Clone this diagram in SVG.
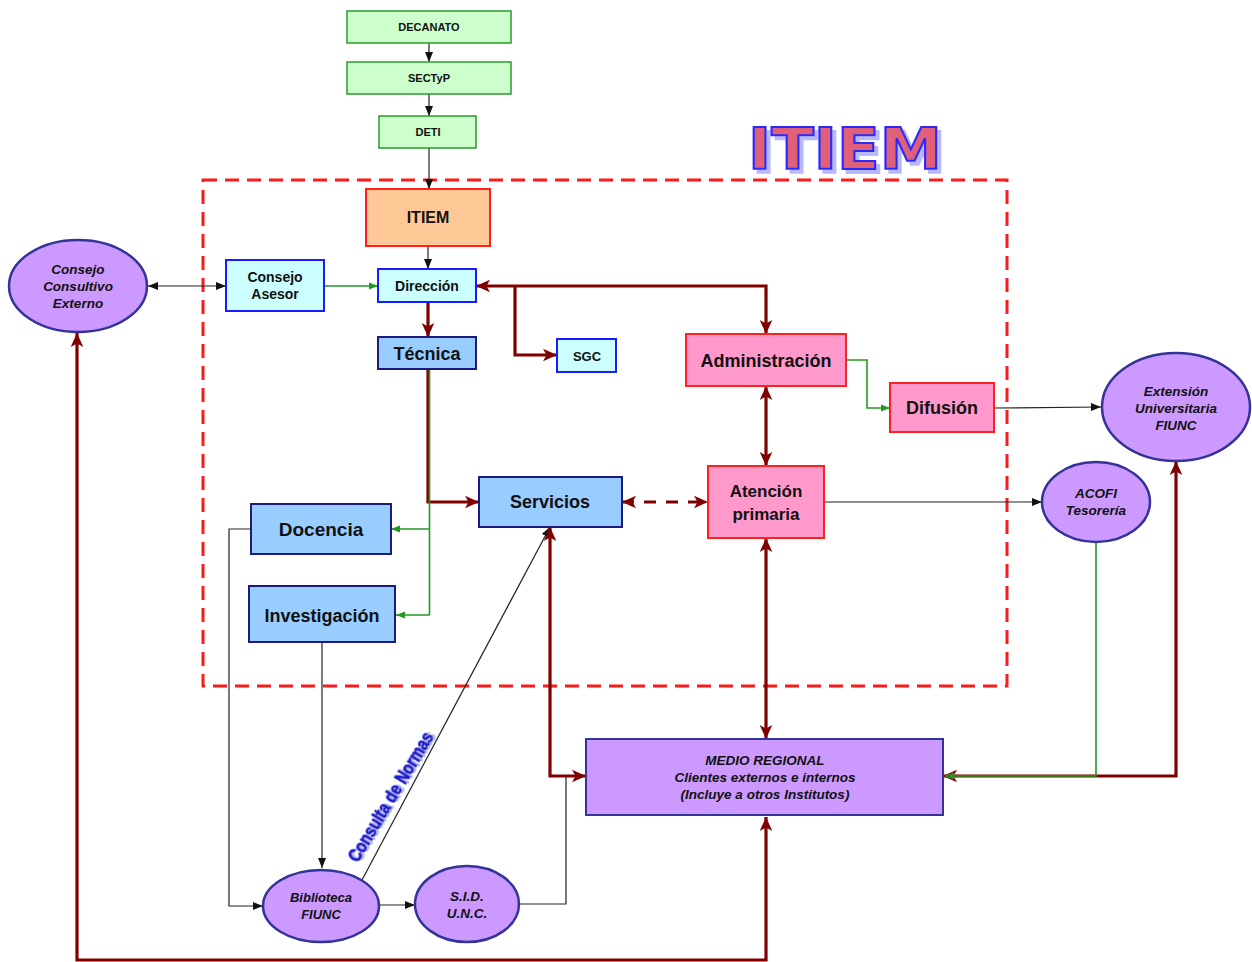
<svg xmlns="http://www.w3.org/2000/svg" width="1252" height="962" viewBox="0 0 1252 962">
<style>
  text { font-family: "Liberation Sans", Arial, sans-serif; font-weight: bold; fill: #111; text-anchor: middle; }
  .it { font-style: italic; }
  .green { fill: #ccffcc; stroke: #2a9a2a; stroke-width: 1.5; }
  .cyan { fill: #ccffff; stroke: #1a1aff; stroke-width: 2; }
  .blue { fill: #99ccff; stroke: #1a1a80; stroke-width: 2; }
  .pink { fill: #ff99cc; stroke: #ff2020; stroke-width: 2; }
  .peach { fill: #ffc896; stroke: #ff2020; stroke-width: 2; }
  .purple { fill: #cc99ff; stroke: #333399; stroke-width: 2.5; }
  .blk { fill: none; stroke: #222; stroke-width: 1.2; }
  .grn { fill: none; stroke: #229922; stroke-width: 1.6; }
  .red { fill: none; stroke: #800000; stroke-width: 3.2; }
</style>
<defs>
  <marker id="ab" markerUnits="userSpaceOnUse" markerWidth="10" markerHeight="10" viewBox="0 0 10 10" refX="10" refY="5" orient="auto-start-reverse"><path d="M0,1 L10,5 L0,9 z" fill="#111"/></marker>
  <marker id="ag" markerUnits="userSpaceOnUse" markerWidth="9" markerHeight="9" viewBox="0 0 10 10" refX="10" refY="5" orient="auto-start-reverse"><path d="M0,1 L10,5 L0,9 z" fill="#229922"/></marker>
  <marker id="ar" markerUnits="userSpaceOnUse" markerWidth="14" markerHeight="14" viewBox="0 0 10 10" refX="10" refY="5" orient="auto-start-reverse"><path d="M0,0.5 L10,5 L0,9.5 L2.5,5 z" fill="#800000"/></marker>
  <filter id="shadow" x="-10%" y="-20%" width="130%" height="150%">
    <feOffset in="SourceAlpha" dx="4" dy="4" result="off"/>
    <feFlood flood-color="#9999ff" flood-opacity="0.7"/>
    <feComposite in2="off" operator="in" result="sh"/>
    <feMerge><feMergeNode in="sh"/><feMergeNode in="SourceGraphic"/></feMerge>
  </filter>
  <filter id="shadow2" x="-20%" y="-20%" width="140%" height="140%">
    <feOffset in="SourceAlpha" dx="1.5" dy="1.5" result="off"/>
    <feFlood flood-color="#8888dd" flood-opacity="0.6"/>
    <feComposite in2="off" operator="in" result="sh"/>
    <feMerge><feMergeNode in="sh"/><feMergeNode in="SourceGraphic"/></feMerge>
  </filter>
</defs>
<rect width="1252" height="962" fill="#ffffff"/>

<!-- frame -->
<rect x="203" y="180" width="804" height="506" fill="none" stroke="#ff1a1a" stroke-width="3" stroke-dasharray="14,8"/>

<!-- title -->
<g id="title" filter="url(#shadow)">
  <text x="845" y="169" font-size="57" textLength="194" lengthAdjust="spacingAndGlyphs" style="font-family:'DejaVu Sans','Liberation Sans',sans-serif;font-weight:bold;fill:#e0607a;stroke:#2a2aff;stroke-width:2">ITIEM</text>
</g>

<!-- connectors -->
<g id="connectors">
  <line class="blk" x1="429" y1="43" x2="429" y2="62" marker-end="url(#ab)"/>
  <line class="blk" x1="429" y1="94" x2="429" y2="116" marker-end="url(#ab)"/>
  <line class="blk" x1="429" y1="148" x2="429" y2="189" marker-end="url(#ab)"/>
  <line class="blk" x1="428" y1="246" x2="428" y2="269" marker-end="url(#ab)"/>
  <line class="blk" x1="148" y1="286" x2="226" y2="286" marker-start="url(#ab)" marker-end="url(#ab)"/>
  <line class="grn" x1="324" y1="286" x2="378" y2="286" marker-end="url(#ag)"/>
  <line class="red" x1="428" y1="302" x2="428" y2="337" marker-end="url(#ar)"/>
  <polyline class="red" points="766,334 766,286 476,286" marker-start="url(#ar)" marker-end="url(#ar)"/>
  <polyline class="red" points="515,286 515,355 557,355" marker-end="url(#ar)"/>
  <polyline class="grn" points="846,360 867,360 867,408 890,408" marker-end="url(#ag)"/>
  <line class="blk" x1="994" y1="408" x2="1101" y2="407" marker-end="url(#ab)"/>
  <line class="red" x1="766" y1="386" x2="766" y2="466" marker-start="url(#ar)" marker-end="url(#ar)"/>
  <line class="blk" x1="824" y1="502" x2="1042" y2="502" marker-end="url(#ab)"/>
  <line class="red" x1="622" y1="502" x2="708" y2="502" stroke-dasharray="12,10" marker-start="url(#ar)" marker-end="url(#ar)"/>
  <polyline class="red" points="428,369 428,502 479,502" marker-end="url(#ar)"/>
  <line class="grn" x1="429.5" y1="369" x2="429.5" y2="615"/>
  <line class="grn" x1="429.5" y1="529" x2="391" y2="529" marker-end="url(#ag)"/>
  <line class="grn" x1="429.5" y1="615" x2="396" y2="615" marker-end="url(#ag)"/>
  <polyline class="blk" points="251,529 229,529 229,906 263,906" marker-end="url(#ab)"/>
  <line class="blk" x1="322" y1="642" x2="322" y2="868" marker-end="url(#ab)"/>
  <line class="blk" x1="379" y1="905" x2="415" y2="905" marker-end="url(#ab)"/>
  <polyline class="blk" points="519,904 566,904 566,776"/>
  <line class="blk" x1="362" y1="880" x2="550" y2="527" marker-end="url(#ab)"/>
  <polyline class="red" points="550,527 550,776 586,776" marker-start="url(#ar)" marker-end="url(#ar)"/>
  <line class="red" x1="766" y1="538" x2="766" y2="739" marker-start="url(#ar)" marker-end="url(#ar)"/>
  <polyline class="red" points="1176,461 1176,776 943,776" marker-start="url(#ar)" marker-end="url(#ar)"/>
  <polyline class="grn" points="1096,542 1096,776 945,776" marker-end="url(#ag)"/>
  <polyline class="red" points="77,333 77,960 766,960 766,817" marker-start="url(#ar)" marker-end="url(#ar)"/>
</g>

<text x="0" y="0" font-size="18" textLength="148" lengthAdjust="spacingAndGlyphs" transform="translate(396,800) rotate(-59)" filter="url(#shadow2)" style="fill:#1a1acc;stroke:#1a1acc;stroke-width:0.8">Consulta de Normas</text>

<!-- nodes -->
<g id="decanato"><rect class="green" x="347" y="11" width="164" height="32"/><text x="429" y="31" font-size="11">DECANATO</text></g>
<g id="sectyp"><rect class="green" x="347" y="62" width="164" height="32"/><text x="429" y="82" font-size="11">SECTyP</text></g>
<g id="deti"><rect class="green" x="379" y="116" width="97" height="32"/><text x="428" y="136" font-size="11">DETI</text></g>
<g id="itiem"><rect class="peach" x="366" y="189" width="124" height="57"/><text x="428" y="223" font-size="16">ITIEM</text></g>
<g id="direccion"><rect class="cyan" x="378" y="269" width="98" height="33"/><text x="427" y="291" font-size="14">Dirección</text></g>
<g id="consejo-asesor"><rect class="cyan" x="226" y="260" width="98" height="51"/><text x="275" y="282" font-size="14">Consejo</text><text x="275" y="299" font-size="14">Asesor</text></g>
<g id="consejo-consultivo"><ellipse class="purple" cx="78" cy="286" rx="69" ry="46"/><text class="it" x="78" y="274" font-size="13.5">Consejo</text><text class="it" x="78" y="291" font-size="13.5">Consultivo</text><text class="it" x="78" y="308" font-size="13.5">Externo</text></g>
<g id="tecnica"><rect class="blue" x="378" y="337" width="98" height="32"/><text x="427" y="360" font-size="18">Técnica</text></g>
<g id="sgc"><rect class="cyan" x="557" y="339" width="59" height="33"/><text x="587" y="361" font-size="13">SGC</text></g>
<g id="administracion"><rect class="pink" x="686" y="334" width="160" height="52"/><text x="766" y="367" font-size="18">Administración</text></g>
<g id="difusion"><rect class="pink" x="890" y="383" width="104" height="49"/><text x="942" y="414" font-size="18">Difusión</text></g>
<g id="extension"><ellipse class="purple" cx="1176" cy="407" rx="74" ry="54"/><text class="it" x="1176" y="396" font-size="13.5">Extensión</text><text class="it" x="1176" y="413" font-size="13.5">Universitaria</text><text class="it" x="1176" y="430" font-size="13.5">FIUNC</text></g>
<g id="acofi"><ellipse class="purple" cx="1096" cy="502" rx="54" ry="40"/><text class="it" x="1096" y="498" font-size="13.5">ACOFI</text><text class="it" x="1096" y="515" font-size="13.5">Tesorería</text></g>
<g id="atencion"><rect class="pink" x="708" y="466" width="116" height="72"/><text x="766" y="497" font-size="17">Atención</text><text x="766" y="520" font-size="17">primaria</text></g>
<g id="servicios"><rect class="blue" x="479" y="477" width="143" height="50"/><text x="550" y="508" font-size="18">Servicios</text></g>
<g id="docencia"><rect class="blue" x="251" y="504" width="140" height="50"/><text x="321" y="536" font-size="19">Docencia</text></g>
<g id="investigacion"><rect class="blue" x="249" y="586" width="146" height="56"/><text x="322" y="622" font-size="18">Investigación</text></g>
<g id="biblioteca"><ellipse class="purple" cx="321" cy="906" rx="58" ry="36"/><text class="it" x="321" y="902" font-size="13">Biblioteca</text><text class="it" x="321" y="919" font-size="13">FIUNC</text></g>
<g id="sid"><ellipse class="purple" cx="467" cy="904" rx="52" ry="38"/><text class="it" x="467" y="901" font-size="13.5">S.I.D.</text><text class="it" x="467" y="918" font-size="13.5">U.N.C.</text></g>
<g id="medio"><rect class="purple" x="586" y="739" width="357" height="76" style="stroke-width:2"/><text class="it" x="765" y="765" font-size="13.5">MEDIO REGIONAL</text><text class="it" x="765" y="782" font-size="13.5">Clientes externos e internos</text><text class="it" x="765" y="799" font-size="13.5">(Incluye a otros Institutos)</text></g>
</svg>
